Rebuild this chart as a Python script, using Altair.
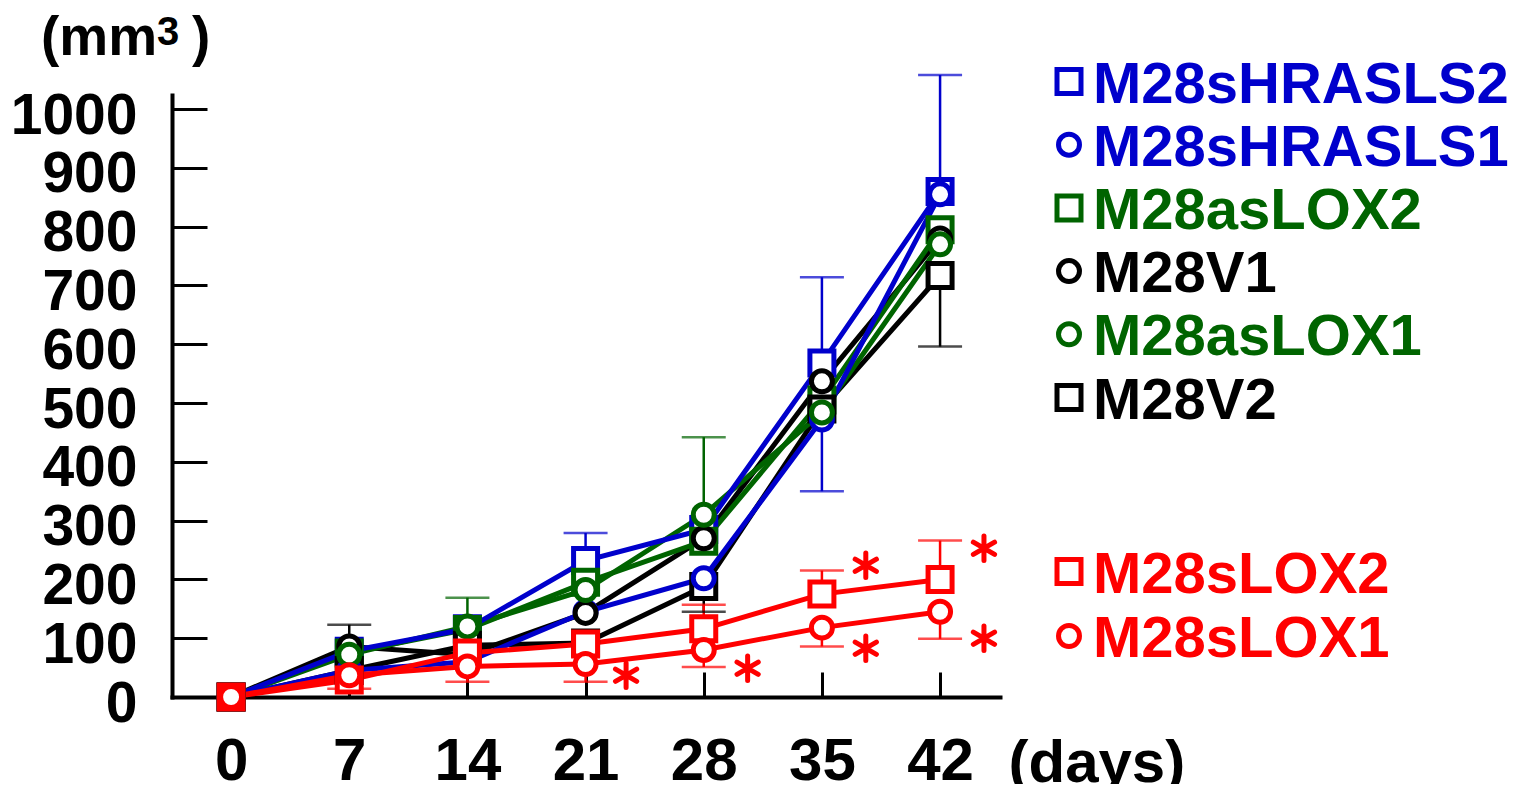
import altair as alt
import pandas as pd

# ---------------- data ----------------
days = [0, 7, 14, 21, 28, 35, 42]
series_names = ["M28sHRASLS2", "M28sHRASLS1", "M28asLOX2", "M28V1",
                "M28asLOX1", "M28V2", "M28sLOX2", "M28sLOX1"]
sHRASLS2 = [0, 78, 116, 232, 285, 568, 860]
sHRASLS1 = [0, 45, 60, 145, 202, 472, 855]
asLOX2 = [0, 75, 115, 195, 265, 505, 795]
V1 = [0, 86, 72, 143, 270, 537, 780]
asLOX1 = [0, 72, 120, 182, 310, 484, 770]
V2 = [0, 45, 88, 92, 188, 490, 717]
sLOX2 = [0, 29, 75, 90, 116, 175, 200]
sLOX1 = [0, 37, 52, 56, 80, 118, 145]
series_values = [sHRASLS2, sHRASLS1, asLOX2, V1, asLOX1, V2, sLOX2, sLOX1]

# error bars (one-sided): series, day, whisker end
err_series = ["M28V1", "M28sLOX1", "M28asLOX1", "M28sLOX1", "M28sHRASLS2", "M28sLOX1",
              "M28asLOX1", "M28V2", "M28sLOX2", "M28sLOX1",
              "M28sHRASLS2", "M28sHRASLS1", "M28sLOX2", "M28sLOX1",
              "M28sHRASLS2", "M28V2", "M28sLOX2", "M28sLOX1"]
err_days = [7, 7, 14, 14, 21, 21,
            28, 28, 28, 28,
            35, 35, 35, 35,
            42, 42, 42, 42]
err_ends = [123, 14, 169, 26, 279, 26,
            442, 145, 157, 51,
            714, 350, 215, 86,
            1058, 596, 266, 99]

# significance asterisks
star_days = [23.4, 30.6, 37.6, 37.6, 44.6, 44.6]
star_values = [37, 49, 224, 83, 253, 100]

y_ticks = [100, 200, 300, 400, 500, 600, 700, 800, 900, 1000]
y_labels = [0] + y_ticks
x_ticks = [7, 14, 21, 28, 35, 42]

unit_parts = ["(mm", "3", ")"]

# ---------------- styles ----------------
FONT = "Liberation Sans"
BLUE, GREEN, BLACK, RED = "#0000cc", "#006400", "#000000", "#ff0000"
color_of = {"M28sHRASLS2": BLUE, "M28sHRASLS1": BLUE, "M28asLOX2": GREEN,
            "M28V1": BLACK, "M28asLOX1": GREEN, "M28V2": BLACK,
            "M28sLOX2": RED, "M28sLOX1": RED}
shape_of = {"M28sHRASLS2": "square", "M28sHRASLS1": "circle", "M28asLOX2": "square",
            "M28V1": "circle", "M28asLOX1": "circle", "M28V2": "square",
            "M28sLOX2": "square", "M28sLOX1": "circle"}

color_scale = alt.Scale(domain=series_names, range=[color_of[s] for s in series_names])
shape_scale = alt.Scale(domain=series_names, range=[shape_of[s] for s in series_names])
size_scale = alt.Scale(domain=["square", "circle"], range=[576, 440])

XDOM = [-3.5, 45.55]
YDOM = [0, 1024]
xs = alt.Scale(domain=XDOM, nice=False, zero=False)
ys = alt.Scale(domain=YDOM, nice=False, zero=False)

# ---------------- tables ----------------
line_order = ["M28V2", "M28V1", "M28asLOX2", "M28asLOX1",
              "M28sHRASLS2", "M28sHRASLS1", "M28sLOX2", "M28sLOX1"]
point_order = ["M28sHRASLS2", "M28asLOX2", "M28V2", "M28sHRASLS1",
               "M28V1", "M28asLOX1", "M28sLOX2", "M28sLOX1"]
vals = dict(zip(series_names, series_values))

lines_df = pd.DataFrame([
    {"series": s, "day": d, "value": v, "shape": shape_of[s]}
    for s in line_order for d, v in zip(days, vals[s])
])
points_df = pd.DataFrame([
    {"series": s, "day": d, "value": v, "shape": shape_of[s]}
    for s in point_order for d, v in zip(days, vals[s])
])
err_df = pd.DataFrame({
    "series": err_series,
    "day": err_days,
    "end": err_ends,
})
err_df["value"] = [vals[s][days.index(d)] for s, d in zip(err_series, err_days)]
stars_df = pd.DataFrame({"day": star_days, "value": star_values})

# custom legend rows (layout only)
leg_y = [-13.5 + 63.2 * i for i in range(6)] + [476.5 + 64.5 * j for j in range(2)]
legend_df = pd.DataFrame({"series": series_names, "label": series_names,
                          "shape": [shape_of[s] for s in series_names], "ly": leg_y})

# ---------------- axes ----------------
main_x_axis = alt.Axis(values=days, ticks=False, tickSize=0, domainWidth=4,
                       domainColor="black", domainCap="square", grid=False,
                       labelFont=FONT, labelFontSize=60, labelFontWeight="bold",
                       labelColor="black", labelPadding=35, labelFlush=False,
                       labelOverlap=False, labelBound=False,
                       title="(days)", titleFont=FONT, titleFontSize=60,
                       titleFontWeight="bold", titleColor="black",
                       titleX=836, titleY=84, titleAlign="left",
                       titleBaseline="alphabetic", titleAngle=0)
main_y_axis = alt.Axis(values=y_labels, format="d", ticks=False, tickSize=0, domainWidth=4,
                       domainColor="black", domainCap="square", grid=False,
                       labelFont=FONT, labelFontSize=57, labelFontWeight="bold",
                       labelColor="black", labelPadding=35, labelOffset=7,
                       labelFlush=False, labelOverlap=False, labelBound=False,
                       title=None)
tick_x_axis = alt.Axis(orient="bottom", values=x_ticks, domain=False, labels=False,
                       ticks=True, tickSize=25, tickWidth=3, tickColor="black",
                       offset=-25, grid=False, title=None)
tick_y_axis = alt.Axis(orient="left", values=y_ticks, domain=False, labels=False,
                       ticks=True, tickSize=35, tickWidth=3, tickColor="black",
                       offset=-35, grid=False, title=None)

color_enc = alt.Color("series:N", scale=color_scale, legend=None)

lines = alt.Chart(lines_df).mark_line(strokeWidth=5).encode(
    x=alt.X("day:Q", scale=xs, axis=main_x_axis),
    y=alt.Y("value:Q", scale=ys, axis=main_y_axis),
    color=color_enc,
    detail="series:N",
)

err_rules = alt.Chart(err_df).mark_rule(strokeWidth=2.5).encode(
    x=alt.X("day:Q", scale=xs, axis=tick_x_axis),
    y=alt.Y("value:Q", scale=ys, axis=tick_y_axis),
    y2="end:Q",
    color=color_enc,
)

err_caps = alt.Chart(err_df).mark_tick(orient="horizontal", size=44, thickness=2.5).encode(
    x=alt.X("day:Q", scale=xs, axis=None),
    y=alt.Y("end:Q", scale=ys, axis=None),
    color=color_enc,
)

points = alt.Chart(points_df).mark_point(filled=False, fill="white", fillOpacity=1,
                                         opacity=1, strokeWidth=5).encode(
    x=alt.X("day:Q", scale=xs, axis=None),
    y=alt.Y("value:Q", scale=ys, axis=None),
    color=color_enc,
    shape=alt.Shape("series:N", scale=shape_scale, legend=None),
    size=alt.Size("shape:N", scale=size_scale, legend=None),
    fill=alt.condition("datum.day == 0 && datum.series == 'M28sLOX2'",
                       alt.value(RED), alt.value("white")),
)

ASTER = "M0,-1L0,1M-0.866,-0.5L0.866,0.5M-0.866,0.5L0.866,-0.5"
stars = alt.Chart(stars_df).mark_point(shape=ASTER, filled=False, stroke=RED,
                                       strokeWidth=5, size=600, opacity=1,
                                       strokeCap="round").encode(
    x=alt.X("day:Q", scale=xs, axis=None),
    y=alt.Y("value:Q", scale=ys, axis=None),
)

legend_pts = alt.Chart(legend_df).mark_point(filled=False, fill="white", fillOpacity=1,
                                             opacity=1, strokeWidth=5).encode(
    x=alt.value(897),
    y=alt.Y("ly:Q", scale=None, axis=None),
    color=color_enc,
    shape=alt.Shape("series:N", scale=shape_scale, legend=None),
    size=alt.Size("shape:N", scale=alt.Scale(domain=["square", "circle"], range=[500, 360]),
                  legend=None),
)

legend_txt = alt.Chart(legend_df).mark_text(align="left", baseline="alphabetic", dy=21,
                                            font=FONT, fontSize=58,
                                            fontWeight="bold").encode(
    x=alt.value(921),
    y=alt.Y("ly:Q", scale=None, axis=None),
    text="label:N",
    color=color_enc,
)

# unit label "(mm³)" with a large raised 3
unit_base = dict(align="left", baseline="alphabetic", font=FONT, fontWeight="bold",
                 color="black")
unit_a = alt.Chart().mark_text(text=unit_parts[0], fontSize=55, **unit_base).encode(
    x=alt.value(-131), y=alt.value(-40))
unit_b = alt.Chart().mark_text(text=unit_parts[1], fontSize=40, **unit_base).encode(
    x=alt.value(-15), y=alt.value(-50))
unit_c = alt.Chart().mark_text(text=unit_parts[2], fontSize=55, **unit_base).encode(
    x=alt.value(20), y=alt.value(-40))

chart = alt.layer(lines, err_rules, err_caps, points, stars, legend_pts, legend_txt,
                  unit_a, unit_b, unit_c).resolve_axis(
    x="independent", y="independent"
).properties(
    width=828, height=602,
    autosize=alt.AutoSizeParams(type="none"),
    padding={"left": 164, "top": 87, "right": 514, "bottom": 87},
    background="white",
).configure_view(stroke=None)

chart.save("out.html", embed_options={"renderer": "svg", "actions": False})
